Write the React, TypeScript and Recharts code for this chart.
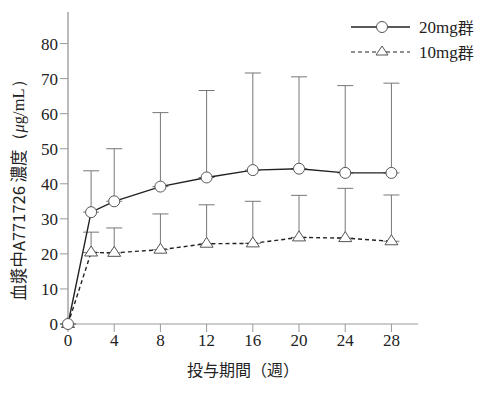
import { LineChart, Line, XAxis, YAxis, ErrorBar } from 'recharts'

// 投与期間（週）
const weeks = [0, 2, 4, 8, 12, 16, 20, 24, 28]
// 20mg群 平均と SD（上側のみ）
const mean20 = [0, 31.9, 35, 39.2, 41.8, 43.9, 44.3, 43.1, 43.1]
const sd20 = [0, 11.8, 15, 21.1, 24.8, 27.7, 26.2, 24.9, 25.6]
// 10mg群
const mean10 = [0, 20.4, 20.3, 21.2, 22.9, 23.0, 24.7, 24.5, 23.6]
const sd10 = [0, 5.8, 7.1, 10.2, 11.1, 12.0, 12.0, 14.2, 13.2]

const xTicks = [0, 4, 8, 12, 16, 20, 24, 28]
const yTicks = [0, 10, 20, 30, 40, 50, 60, 70, 80]

const data = weeks.map((w, i) => ({
  week: w,
  g20: mean20[i],
  e20: [0, sd20[i]],
  g10: mean10[i],
  e10: [0, sd10[i]],
}))

const FONT = "'Liberation Serif', 'DejaVu Serif', serif"
const CJK = "'Noto Sans CJK JP', sans-serif"

const CircleDot = ({ cx, cy }: any) => (
  <circle cx={cx} cy={cy} r={5.5} fill="#fff" stroke="#555" strokeWidth={1} />
)

const TriangleDot = ({ cx, cy }: any) => (
  <polygon
    points={`${cx},${cy - 6.5} ${cx - 6.5},${cy + 3.5} ${cx + 6.5},${cy + 3.5}`}
    fill="#fff"
    stroke="#555"
    strokeWidth={1}
  />
)

// 凡例（右上）
const LegendBox = () => (
  <svg width={140} height={50} style={{ position: 'absolute', left: 340, top: 14 }}>
    <line x1={11} y1={13} x2={70} y2={13} stroke="#222" strokeWidth={1.3} />
    <circle cx={42} cy={13} r={5.5} fill="#fff" stroke="#555" />
    <text x={79} y={13} dominantBaseline="central" fontSize={17} fill="#222" style={{ fontFamily: FONT }}>
      20mg<tspan style={{ fontFamily: CJK }} fontSize={16}>群</tspan>
    </text>
    <line x1={11} y1={38} x2={70} y2={38} stroke="#222" strokeWidth={1.2} strokeDasharray="4 3" />
    <polygon points="42,32 36,41 48,41" fill="#fff" stroke="#555" />
    <text x={79} y={38} dominantBaseline="central" fontSize={17} fill="#222" style={{ fontFamily: FONT }}>
      10mg<tspan style={{ fontFamily: CJK }} fontSize={16}>群</tspan>
    </text>
  </svg>
)

export default function App() {
  return (
    <div style={{ position: 'absolute', left: 0, top: 0, width: 486, height: 398, background: '#fff' }}>
      <LineChart
        width={486}
        height={398}
        data={data}
        margin={{ top: 12, right: 68, left: 0, bottom: 24 }}
        style={{ fontFamily: FONT }}
      >
        <XAxis
          dataKey="week"
          type="number"
          domain={[0, 30.3]}
          ticks={xTicks}
          height={50}
          stroke="#999"
          tickLine={{ stroke: '#999' }}
          tickSize={8}
          tick={{ fill: '#222', fontSize: 17, style: { fontFamily: FONT } }}
          label={{
            value: '投与期間（週）',
            position: 'insideBottom',
            offset: -2,
            fill: '#222',
            fontSize: 16,
            style: { fontFamily: CJK },
          }}
        />
        <YAxis
          type="number"
          domain={[0, 89]}
          ticks={yTicks}
          width={68}
          stroke="#bbb"
          strokeWidth={2}
          tickLine={{ stroke: '#999', strokeWidth: 1 }}
          tickSize={8}
          tick={{ fill: '#222', fontSize: 17, style: { fontFamily: FONT } }}
          label={(props: any) => {
            const vb = props.viewBox || {}
            const cy = (vb.y ?? 12) + (vb.height ?? 312) / 2 + 18
            return (
              <text
                x={18}
                y={cy}
                transform={`rotate(-90, 18, ${cy})`}
                textAnchor="middle"
                dominantBaseline="central"
                fontSize={16.5}
                fill="#222"
                style={{ fontFamily: CJK }}
              >
                血漿中A771726 濃度
                <tspan style={{ fontFamily: FONT }}>（</tspan>
                <tspan style={{ fontFamily: FONT }} fontStyle="italic">μ</tspan>
                <tspan style={{ fontFamily: FONT }}>g/mL）</tspan>
              </text>
            )
          }}
        />
        <Line
          dataKey="g10"
          stroke="#222"
          strokeWidth={1.4}
          strokeDasharray="4 3"
          dot={<TriangleDot />}
          isAnimationActive={false}
        >
          <ErrorBar dataKey="e10" width={8} stroke="#777" strokeWidth={1} direction="y" />
        </Line>
        <Line
          dataKey="g20"
          stroke="#222"
          strokeWidth={1.4}
          dot={<CircleDot />}
          isAnimationActive={false}
        >
          <ErrorBar dataKey="e20" width={8} stroke="#777" strokeWidth={1} direction="y" />
        </Line>
      </LineChart>
      <LegendBox />
    </div>
  )
}
